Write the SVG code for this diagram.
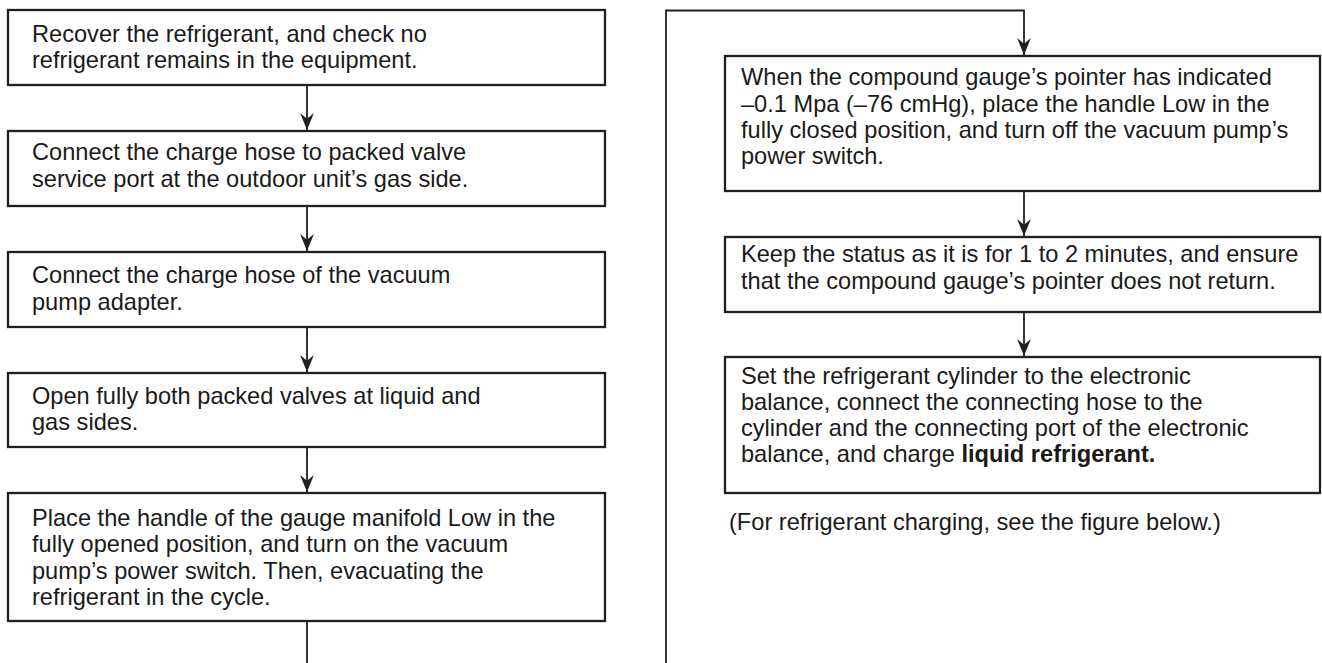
<svg xmlns="http://www.w3.org/2000/svg" width="1322" height="663" viewBox="0 0 1322 663">
<style>
.box{fill:#fff;stroke:#231f20;stroke-width:2.3}
.t{font-family:"Liberation Sans",Arial,sans-serif;font-size:23.6px;fill:#1a1a1a}
.c{fill:none;stroke:#231f20;stroke-width:1.8}
.b{font-weight:bold}
</style>
<defs>
<marker id="ah" markerUnits="userSpaceOnUse" viewBox="0 0 16 13" markerWidth="17" markerHeight="14" refX="16" refY="6.5" orient="auto">
<path d="M0,0 L16,6.5 L0,13 L5.5,6.5 Z" fill="#231f20"/>
</marker>
</defs>
<rect width="1322" height="663" fill="#fff"/>
<g id="connectors">
<path class="c" d="M307,86 V130" marker-end="url(#ah)"/>
<path class="c" d="M307,207 V251" marker-end="url(#ah)"/>
<path class="c" d="M307,328 V372" marker-end="url(#ah)"/>
<path class="c" d="M307,448 V492" marker-end="url(#ah)"/>
<path class="c" d="M307,622 V663"/>
<path class="c" d="M666,663 V10.5 H1024 V55" marker-end="url(#ah)"/>
<path class="c" d="M1024,192 V236" marker-end="url(#ah)"/>
<path class="c" d="M1024,313 V356" marker-end="url(#ah)"/>
</g>
<g id="n1">
<rect class="box" x="8" y="10" width="597" height="75"/>
<text class="t" x="32" y="41.5">Recover the refrigerant, and check no</text>
<text class="t" x="32" y="68">refrigerant remains in the equipment.</text>
</g>
<g id="n2">
<rect class="box" x="8" y="131" width="597" height="75"/>
<text class="t" x="32" y="160">Connect the charge hose to packed valve</text>
<text class="t" x="32" y="186.5">service port at the outdoor unit’s gas side.</text>
</g>
<g id="n3">
<rect class="box" x="8" y="252" width="597" height="75"/>
<text class="t" x="32" y="283">Connect the charge hose of the vacuum</text>
<text class="t" x="32" y="309.5">pump adapter.</text>
</g>
<g id="n4">
<rect class="box" x="8" y="373" width="597" height="74"/>
<text class="t" x="32" y="403.5">Open fully both packed valves at liquid and</text>
<text class="t" x="32" y="430">gas sides.</text>
</g>
<g id="n5">
<rect class="box" x="8" y="493" width="597" height="128"/>
<text class="t" x="32" y="526">Place the handle of the gauge manifold Low in the</text>
<text class="t" x="32" y="552">fully opened position, and turn on the vacuum</text>
<text class="t" x="32" y="578.5">pump’s power switch. Then, evacuating the</text>
<text class="t" x="32" y="605">refrigerant in the cycle.</text>
</g>
<g id="n6">
<rect class="box" x="725" y="56" width="595" height="135"/>
<text class="t" x="741" y="85">When the compound gauge’s pointer has indicated</text>
<text class="t" x="741" y="111.5">–0.1 Mpa (–76 cmHg), place the handle Low in the</text>
<text class="t" x="741" y="138">fully closed position, and turn off the vacuum pump’s</text>
<text class="t" x="741" y="164">power switch.</text>
</g>
<g id="n7">
<rect class="box" x="725" y="237" width="595" height="75"/>
<text class="t" x="741" y="262">Keep the status as it is for 1 to 2 minutes, and ensure</text>
<text class="t" x="741" y="288.5">that the compound gauge’s pointer does not return.</text>
</g>
<g id="n8">
<rect class="box" x="725" y="357" width="595" height="136"/>
<text class="t" x="741" y="383.5">Set the refrigerant cylinder to the electronic</text>
<text class="t" x="741" y="410">balance, connect the connecting hose to the</text>
<text class="t" x="741" y="436">cylinder and the connecting port of the electronic</text>
<text class="t" x="741" y="462">balance, and charge <tspan class="b">liquid refrigerant.</tspan></text>
</g>
<g id="caption">
<text class="t" x="729" y="530">(For refrigerant charging, see the figure below.)</text>
</g>
</svg>
